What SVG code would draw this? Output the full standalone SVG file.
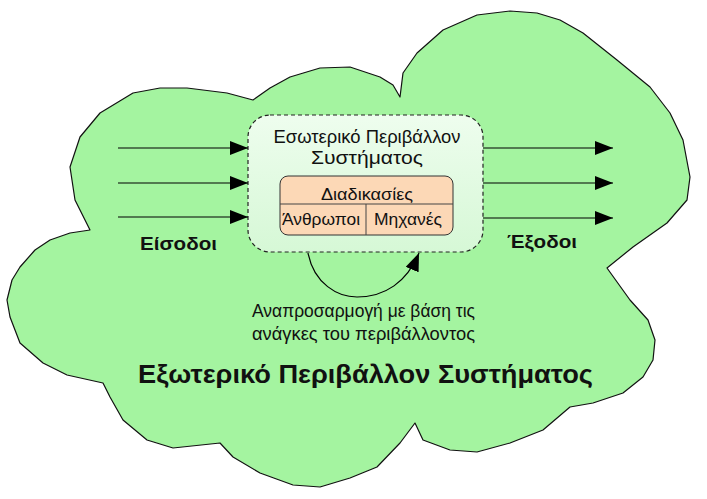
<svg xmlns="http://www.w3.org/2000/svg" width="707" height="499" viewBox="0 0 707 499">
<style>
.cloud{fill:#a4f4a0;stroke:#111;stroke-width:1.2;stroke-linejoin:round}
.inner{fill:#e0fbe0;stroke:#222;stroke-width:1.2;stroke-dasharray:4 3}
.proc{fill:#fcd8b6;stroke:#333;stroke-width:1}
.div{stroke:#444;stroke-width:1}
.t{font-family:"Liberation Sans",Arial,sans-serif;fill:#111}
.b{font-family:"Liberation Sans",Arial,sans-serif;font-weight:bold;fill:#111}
.arr{stroke:#000;stroke-width:1.2;fill:none}
</style>
<defs>
<marker id="ah" markerWidth="18" markerHeight="14" refX="18" refY="7" orient="auto" markerUnits="userSpaceOnUse">
<path d="M0,0 L18,7 L0,14 Z" fill="#000"/>
</marker>
<linearGradient id="ig" x1="0" y1="0" x2="0" y2="1">
<stop offset="0" stop-color="#eefdee"/>
<stop offset="1" stop-color="#d6f8d6"/>
</linearGradient>
</defs>
<g id="external">
<path class="cloud" d="M90,230 L75,200 L70,167 L80,137 L100,113 L133,93 L160,88 L187,88 L227,93 L253,100 L270,88 L290,77 L320,68 L350,67 L380,77 L393,85 L400,97 L403,73 L417,53 L443,30 L477,15 L510,11 L537,13 L560,20 L583,33 L617,60 L650,87 L670,113 L683,140 L690,177 L687,200 L667,223 L633,247 L607,268 L630,300 L648,320 L655,340 L653,360 L643,377 L623,393 L593,403 L570,407 L543,430 L510,443 L477,452 L450,450 L423,440 L415,423 L400,443 L377,467 L350,478 L320,487 L293,485 L260,473 L233,457 L220,443 L173,448 L147,440 L123,420 L110,397 L103,383 L67,375 L43,363 L20,343 L10,317 L7,300 L12,280 L20,267 L35,250 L50,240 L70,233 Z"/>
<text class="b" x="138" y="383" font-size="26" textLength="455" lengthAdjust="spacingAndGlyphs">Εξωτερικό Περιβάλλον Συστήματος</text>
</g>
<g id="internal">
<rect class="inner" x="248" y="115" width="235" height="137" rx="22" style="fill:url(#ig)"/>
<text class="t" x="367" y="143" font-size="18" text-anchor="middle" textLength="187" lengthAdjust="spacingAndGlyphs">Εσωτερικό Περιβάλλον</text>
<text class="t" x="367" y="164" font-size="18" text-anchor="middle" textLength="112" lengthAdjust="spacingAndGlyphs">Συστήματος</text>
</g>
<g id="processes">
<rect class="proc" x="280" y="176" width="173" height="59" rx="8"/>
<line class="div" x1="280" y1="204" x2="453" y2="204" stroke="#c9a888"/>
<line class="div" x1="366" y1="204" x2="366" y2="235"/>
<text class="t" x="367" y="200" font-size="17" text-anchor="middle" textLength="92" lengthAdjust="spacingAndGlyphs">Διαδικασίες</text>
<text class="t" x="321" y="225" font-size="16" text-anchor="middle" textLength="78" lengthAdjust="spacingAndGlyphs">Άνθρωποι</text>
<text class="t" x="408" y="225" font-size="16" text-anchor="middle" textLength="68" lengthAdjust="spacingAndGlyphs">Μηχανές</text>
</g>
<g id="connectors">
<line class="arr" x1="118" y1="148" x2="248" y2="148" marker-end="url(#ah)"/>
<line class="arr" x1="118" y1="183" x2="248" y2="183" marker-end="url(#ah)"/>
<line class="arr" x1="118" y1="217" x2="248" y2="217" marker-end="url(#ah)"/>
<line class="arr" x1="483" y1="148" x2="613" y2="148" marker-end="url(#ah)"/>
<line class="arr" x1="483" y1="183" x2="613" y2="183" marker-end="url(#ah)"/>
<line class="arr" x1="483" y1="218" x2="613" y2="218" marker-end="url(#ah)"/>
<path class="arr" d="M308,253 C314,284 338,297 357,297 C385,297 407,282 419,253" marker-end="url(#ah)"/>
</g>
<g id="labels">
<text class="b" x="140" y="250" font-size="18.5" textLength="77" lengthAdjust="spacingAndGlyphs">Είσοδοι</text>
<text class="b" x="507" y="248" font-size="18.5" textLength="70" lengthAdjust="spacingAndGlyphs">Έξοδοι</text>
<text class="t" x="252" y="317" font-size="18" textLength="223" lengthAdjust="spacingAndGlyphs">Αναπροσαρμογή με βάση τις</text>
<text class="t" x="252" y="340" font-size="18" textLength="223" lengthAdjust="spacingAndGlyphs">ανάγκες του περιβάλλοντος</text>
</g>
</svg>
